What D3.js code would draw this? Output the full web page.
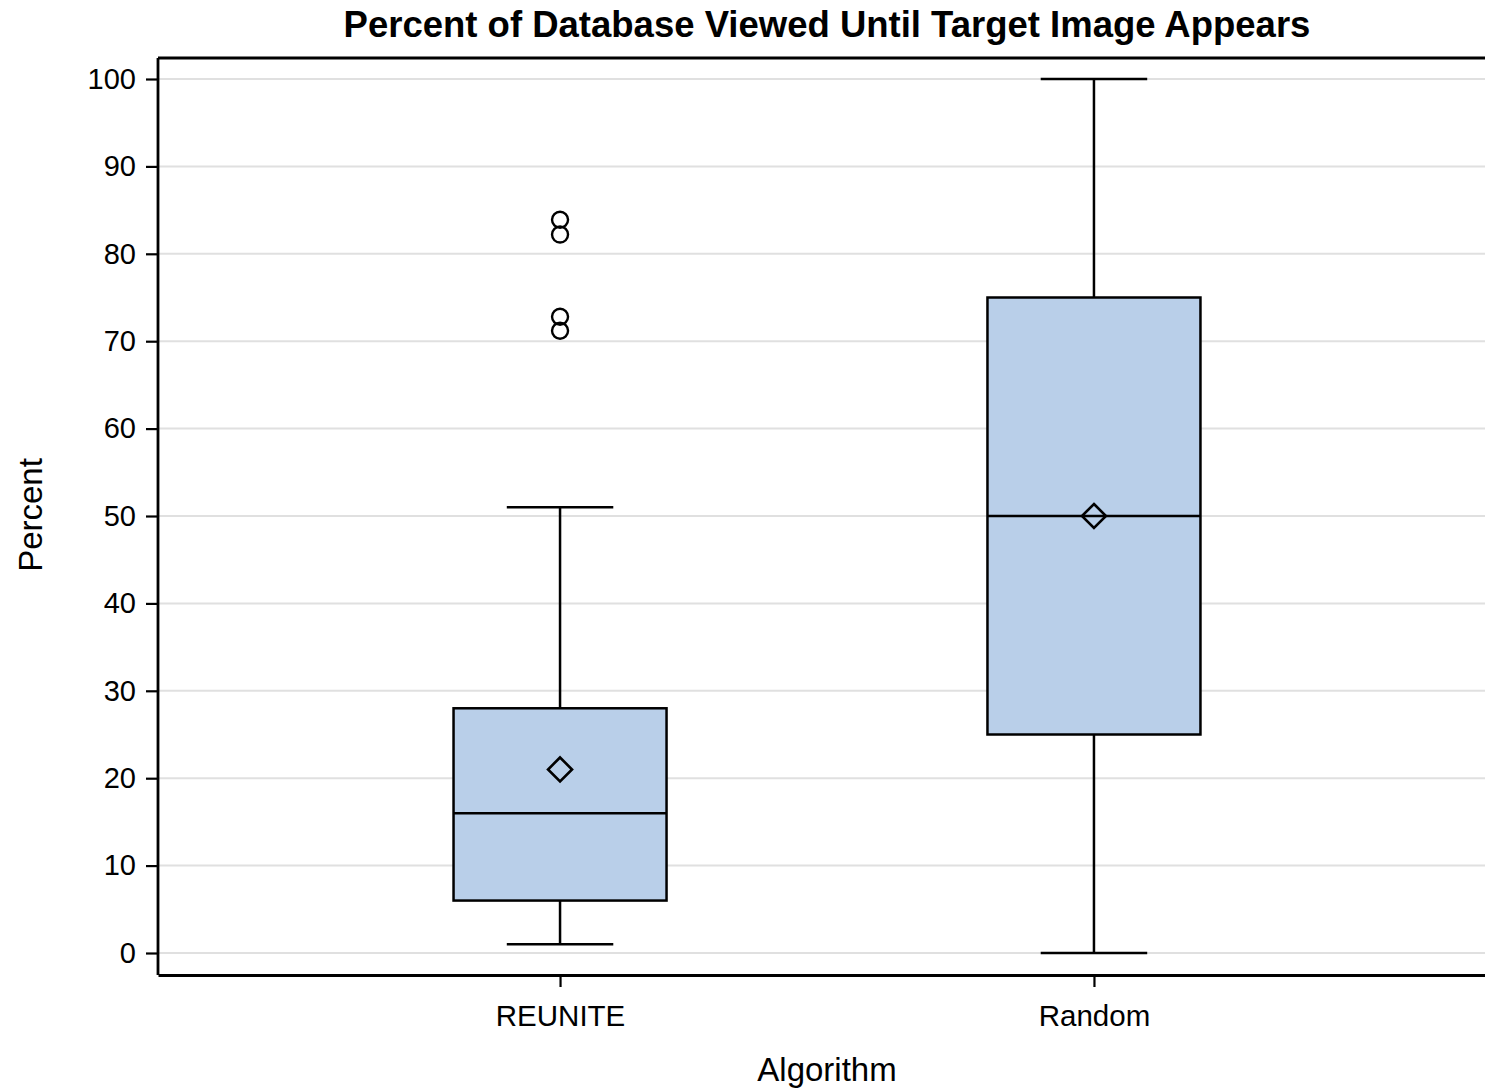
<!DOCTYPE html>
<html>
<head>
<meta charset="utf-8">
<script src="https://cdnjs.cloudflare.com/ajax/libs/d3/7.8.5/d3.min.js"></script>
<style>
  body { margin: 0; background: #fff; }
  text { font-family: Arial, "Liberation Sans", sans-serif; fill: #000; }
</style>
</head>
<body>
<div id="chart"></div>
<script>
// box plot stats
var algorithms = ["REUNITE", "Random"];
var q1 = [6, 25];
var median = [16, 50];
var q3 = [28, 75];
var whiskerLow = [1, 0];
var whiskerHigh = [51, 100];
var mean = [21, 50];
var outliers = [[71.2, 72.8, 82.2, 83.9], []];
var yTicks = [0, 10, 20, 30, 40, 50, 60, 70, 80, 90, 100];

const width = 1485, height = 1089;
const margin = {top: 58, right: -11, bottom: 114, left: 158};
const innerW = width - margin.left - margin.right,
      innerH = height - margin.top - margin.bottom;

const svg = d3.select("#chart")
  .append("svg")
    .attr("width", width)
    .attr("height", height);

// title
svg.append("text")
  .attr("x", 827)
  .attr("y", 37)
  .attr("text-anchor", "middle")
  .style("font-size", "36.5px")
  .style("font-weight", "bold")
  .text("Percent of Database Viewed Until Target Image Appears");

const g = svg.append("g")
  .attr("transform", `translate(${margin.left},${margin.top})`);

const y = d3.scaleLinear()
  .domain([0, 100])
  .range([895, 21]);

const x = d3.scalePoint()
  .domain(algorithms)
  .range([0, innerW])
  .padding(0.753);

const boxW = 213;
const lw = 2.5;

// gridlines
g.append("g")
  .selectAll("line")
  .data(yTicks)
  .join("line")
    .attr("x1", 0)
    .attr("x2", innerW)
    .attr("y1", d => y(d))
    .attr("y2", d => y(d))
    .attr("stroke", "#e0e0e0")
    .attr("stroke-width", 2);

// boxes
const box = g.append("g")
  .selectAll("g")
  .data(algorithms)
  .join("g");

// whiskers
box.append("line")
  .attr("x1", d => x(d)).attr("x2", d => x(d))
  .attr("y1", (d, i) => y(whiskerHigh[i]))
  .attr("y2", (d, i) => y(q3[i]))
  .attr("stroke", "#000").attr("stroke-width", lw);
box.append("line")
  .attr("x1", d => x(d)).attr("x2", d => x(d))
  .attr("y1", (d, i) => y(q1[i]))
  .attr("y2", (d, i) => y(whiskerLow[i]))
  .attr("stroke", "#000").attr("stroke-width", lw);
// caps
box.append("line")
  .attr("x1", d => x(d) - boxW / 4).attr("x2", d => x(d) + boxW / 4)
  .attr("y1", (d, i) => y(whiskerHigh[i]))
  .attr("y2", (d, i) => y(whiskerHigh[i]))
  .attr("stroke", "#000").attr("stroke-width", lw);
box.append("line")
  .attr("x1", d => x(d) - boxW / 4).attr("x2", d => x(d) + boxW / 4)
  .attr("y1", (d, i) => y(whiskerLow[i]))
  .attr("y2", (d, i) => y(whiskerLow[i]))
  .attr("stroke", "#000").attr("stroke-width", lw);

box.append("rect")
  .attr("x", d => x(d) - boxW / 2)
  .attr("width", boxW)
  .attr("y", (d, i) => y(q3[i]))
  .attr("height", (d, i) => y(q1[i]) - y(q3[i]))
  .attr("fill", "#b9cfe9")
  .attr("stroke", "#000")
  .attr("stroke-width", lw);

box.append("line")
  .attr("x1", d => x(d) - boxW / 2).attr("x2", d => x(d) + boxW / 2)
  .attr("y1", (d, i) => y(median[i]))
  .attr("y2", (d, i) => y(median[i]))
  .attr("stroke", "#000").attr("stroke-width", lw);

// mean diamond
box.append("path")
  .attr("d", (d, i) => {
    const cx = x(d), cy = y(mean[i]), r = 12;
    return `M${cx},${cy - r}L${cx + r},${cy}L${cx},${cy + r}L${cx - r},${cy}Z`;
  })
  .attr("fill", "none")
  .attr("stroke", "#000")
  .attr("stroke-width", 2.6);

// outliers
box.each(function(d, i) {
  d3.select(this).selectAll("circle")
    .data(outliers[i])
    .join("circle")
      .attr("cx", x(d))
      .attr("cy", v => y(v))
      .attr("r", 8)
      .attr("fill", "none")
      .attr("stroke", "#000")
      .attr("stroke-width", 2.4);
});

// top frame
g.append("line").attr("x1", 0).attr("x2", innerW).attr("y1", 0).attr("y2", 0)
  .attr("stroke", "#000").attr("stroke-width", 2.8);

// axes
const yAxis = g.append("g")
  .call(d3.axisLeft(y).tickValues(yTicks).tickSize(12).tickPadding(10));
yAxis.select(".domain").attr("d", `M0,0V${innerH}`).attr("stroke-width", 2.8);
yAxis.selectAll(".tick line").attr("stroke-width", 2.2);
yAxis.selectAll(".tick text").style("font-size", "29px").attr("font-family", null);

const xAxis = g.append("g")
  .attr("transform", `translate(0,${innerH})`)
  .call(d3.axisBottom(x).tickSize(12).tickPadding(18).tickSizeOuter(0));
xAxis.select(".domain").attr("stroke-width", 2.8);
xAxis.selectAll(".tick line").attr("stroke-width", 2.2);
xAxis.selectAll(".tick text").style("font-size", "29.5px").attr("font-family", null);

// axis labels
svg.append("text")
  .attr("x", 827)
  .attr("y", 1081)
  .attr("text-anchor", "middle")
  .style("font-size", "33px")
  .text("Algorithm");

svg.append("text")
  .attr("transform", "translate(42,515) rotate(-90)")
  .attr("text-anchor", "middle")
  .style("font-size", "33px")
  .text("Percent");
</script>
</body>
</html>
